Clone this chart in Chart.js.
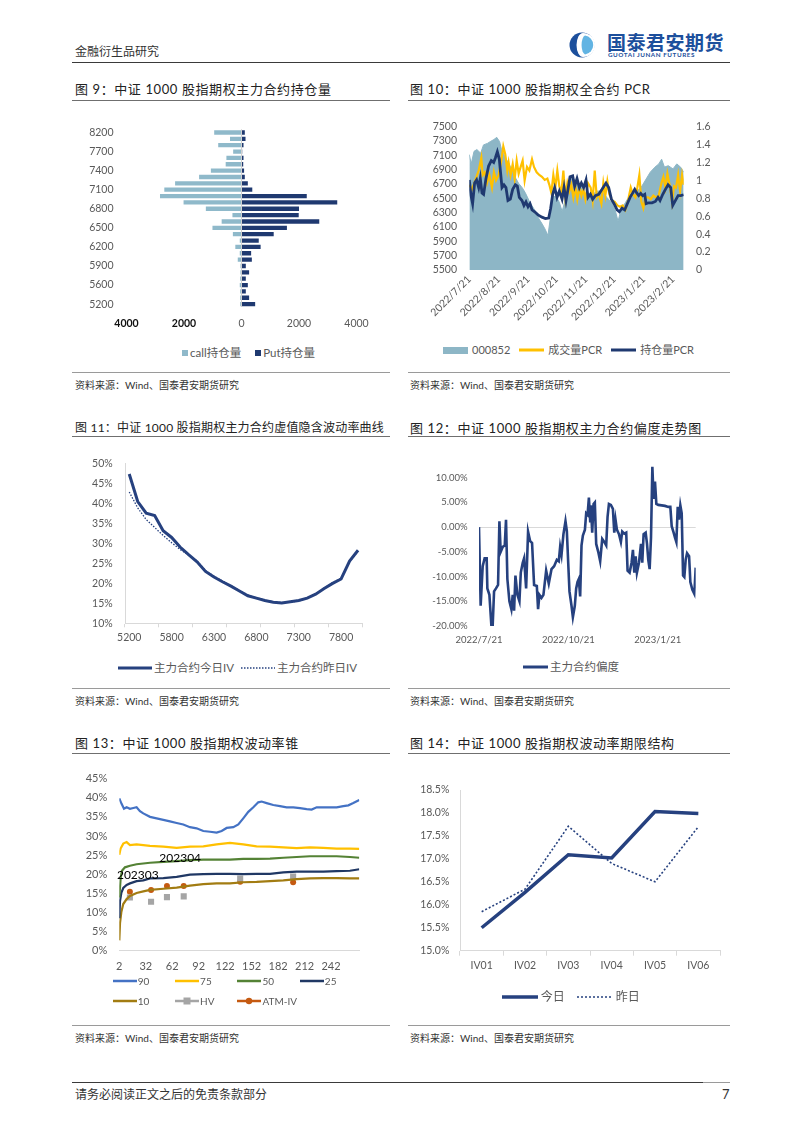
<!DOCTYPE html>
<html lang="zh-CN">
<head>
<meta charset="utf-8">
<title>中证1000股指期权</title>
<script src="https://cdn.jsdelivr.net/npm/chart.js@4.4.1/dist/chart.umd.min.js"></script>
<style>
  html, body { margin: 0; padding: 0; background: #fff; }
  body { width: 802px; height: 1134px; position: relative; overflow: hidden; font-family: Lato, "Noto Sans CJK SC", sans-serif; color: #222; }
  .txt { position: absolute; white-space: nowrap; }
  .rule { position: absolute; height: 0; }
  .title { position: absolute; font-size: 13px; line-height: 16px; letter-spacing: 0.6px; white-space: nowrap; color: #222; }
  .src { position: absolute; font-size: 10px; line-height: 12px; white-space: nowrap; color: #333; }
  canvas { position: absolute; }
  .legend { position: absolute; display: flex; align-items: center; color: #595959; white-space: nowrap; line-height: 14px; }
  .item { display: flex; align-items: center; }
  .item svg { display: block; }
</style>
</head>
<body>

<!-- header -->
<div class="txt" style="left:75px;top:45px;font-size:12px;line-height:14px;color:#333;">金融衍生品研究</div>
<div class="txt" style="left:567px;top:31px;height:28px;">
  <svg width="34" height="28" viewBox="0 0 34 28" style="position:absolute;left:0;top:0">
    <circle cx="15" cy="14" r="12.5" fill="#1c4f9c"/>
    <path d="M16 2 A12 12 0 0 1 16 26 A6.5 12 0 0 1 16 2Z" fill="#ffffff"/>
    <path d="M18 4.5 A9.6 9.6 0 0 1 18 23.5 A4 9.6 0 0 1 18 4.5Z" fill="#62b4e3"/>
  </svg>
  <div style="position:absolute;left:40px;top:1px;font-size:19px;line-height:20px;font-weight:bold;color:#1c4f9c;letter-spacing:0.5px;font-family:'Noto Sans CJK SC',sans-serif;">国泰君安期货</div>
  <div style="position:absolute;left:41px;top:20px;font-size:6.3px;line-height:7px;font-weight:bold;color:#1c4f9c;letter-spacing:0.55px;">GUOTAI JUNAN FUTURES</div>
</div>
<div class="rule" style="left:72px;top:62px;width:658px;border-top:1.5px solid #3a3a3a;"></div>

<!-- titles -->
<div class="title" style="left:75px;top:81px;">图 9：中证 1000 股指期权主力合约持仓量</div>
<div class="title" style="left:410px;top:81px;">图 10：中证 1000 股指期权全合约 PCR</div>
<div class="title" style="left:75px;top:420px;font-size:12px;letter-spacing:0.2px;">图 11：中证 1000 股指期权主力合约虚值隐含波动率曲线</div>
<div class="title" style="left:410px;top:420px;">图 12：中证 1000 股指期权主力合约偏度走势图</div>
<div class="title" style="left:75px;top:735px;">图 13：中证 1000 股指期权波动率锥</div>
<div class="title" style="left:410px;top:735px;">图 14：中证 1000 股指期权波动率期限结构</div>

<div class="rule" style="left:72px;top:100px;width:318px;border-top:1px solid #6f6f6f;"></div>
<div class="rule" style="left:408px;top:100px;width:322px;border-top:1px solid #6f6f6f;"></div>
<div class="rule" style="left:72px;top:436px;width:318px;border-top:1px solid #6f6f6f;"></div>
<div class="rule" style="left:408px;top:436px;width:322px;border-top:1px solid #6f6f6f;"></div>
<div class="rule" style="left:72px;top:753px;width:318px;border-top:1px solid #6f6f6f;"></div>
<div class="rule" style="left:408px;top:753px;width:322px;border-top:1px solid #6f6f6f;"></div>

<!-- source lines -->
<div class="rule" style="left:72px;top:372px;width:318px;border-top:1px solid #9a9a9a;"></div>
<div class="rule" style="left:408px;top:372px;width:322px;border-top:1px solid #9a9a9a;"></div>
<div class="rule" style="left:72px;top:688px;width:318px;border-top:1px solid #9a9a9a;"></div>
<div class="rule" style="left:408px;top:688px;width:322px;border-top:1px solid #9a9a9a;"></div>
<div class="rule" style="left:72px;top:1025px;width:318px;border-top:1px solid #9a9a9a;"></div>
<div class="rule" style="left:408px;top:1025px;width:322px;border-top:1px solid #9a9a9a;"></div>
<div class="src" style="left:75px;top:379px;">资料来源：Wind、国泰君安期货研究</div>
<div class="src" style="left:410px;top:379px;">资料来源：Wind、国泰君安期货研究</div>
<div class="src" style="left:75px;top:695px;">资料来源：Wind、国泰君安期货研究</div>
<div class="src" style="left:410px;top:695px;">资料来源：Wind、国泰君安期货研究</div>
<div class="src" style="left:75px;top:1032px;">资料来源：Wind、国泰君安期货研究</div>
<div class="src" style="left:410px;top:1032px;">资料来源：Wind、国泰君安期货研究</div>

<!-- footer -->
<div class="rule" style="left:72px;top:1082px;width:631px;border-top:1.5px solid #3a3a3a;"></div>
<div class="rule" style="left:703px;top:1082px;width:27px;border-top:1px solid #9a9a9a;"></div>
<div class="txt" style="left:75px;top:1088px;font-size:12px;line-height:14px;color:#333;">请务必阅读正文之后的免责条款部分</div>
<div class="txt" style="left:722px;top:1087px;font-size:13px;line-height:15px;color:#333;">7</div>

<script>
// 图9 主力合约持仓量（行权价由低到高）
const strikes = [5200, 5400, 5500, 5600, 5700, 5800, 5900, 6000, 6100, 6200, 6300, 6400, 6500, 6600,
  6700, 6800, 6900, 7000, 7100, 7200, 7300, 7400, 7500, 7600, 7700, 7800, 8000, 8200];
const callOI = [45, 45, 45, 60, 45, 35, 35, 130, 60, 215, 60, 300, 1010, 690, 315, 1240, 2015, 2835,
  2685, 2310, 1475, 1065, 550, 525, 290, 810, 400, 950];
const putOI = [475, 265, 150, 220, 150, 265, 150, 360, 335, 665, 600, 1120, 1580, 2705, 1990, 2000,
  3330, 2270, 375, 220, 115, 90, 60, 70, 25, 70, 140, 115];

// 图10 全合约PCR（横轴：距 2022/7/21 的天数）
const pcrTickLabels = ['2022/7/21', '2022/8/21', '2022/9/21', '2022/10/21', '2022/11/21', '2022/12/21', '2023/1/21', '2023/2/21'];
const indexDays = [0, 2, 5, 8, 12, 15, 19, 22, 26, 29, 32, 34, 38, 42, 45, 49, 52, 56, 59, 63,
  66, 70, 73, 77, 80, 83, 86, 88, 92, 95, 98, 101, 104, 108, 114, 119, 124, 130, 135, 140,
  145, 151, 154, 157, 160, 165, 170, 175, 181, 186, 191, 196, 200, 203, 206, 210, 215, 219, 223, 226.3];
const indexLevel = [7110, 6980, 7155, 7180, 7130, 7245, 7265, 7290, 7320, 7350, 7290, 7180, 7065, 6980, 6890, 6780, 6710, 6645, 6580, 6470,
  6400, 6315, 6225, 6140, 6070, 5980, 6270, 6535, 6515, 6445, 6315, 6470, 6625, 6780, 6735, 6645, 6535, 6555, 6600, 6600,
  6515, 6425, 6335, 6180, 6335, 6445, 6555, 6580, 6645, 6755, 6865, 6935, 6980, 7045, 6935, 6955, 6910, 6980, 6935, 6865];
const volPcrDays = [0, 2.8, 6.3, 9.9, 12.7, 14.1, 16.2, 18.7, 21.1, 23.9, 26, 28.2, 31, 33.8, 35.9, 38, 40.1, 41.5, 43.6, 45.8,
  47.9, 50, 52.1, 54.2, 56.3, 58.4, 60.9, 63.4, 66.2, 68.3, 71.1, 73.9, 76.7, 79.6, 82.4, 84.5, 86.6, 88.7, 90.8, 92.9,
  95, 97.2, 99.3, 101.4, 103.5, 105.6, 107.7, 109.8, 111.9, 114, 116.2, 118.3, 120.4, 122.5, 125.3, 128.1, 130.2, 132.4, 134.5, 136.6,
  139.4, 141.5, 143.6, 145.7, 147.8, 150.7, 153.5, 156.3, 159.1, 161.9, 164.7, 167.6, 170.4, 172.5, 175.3, 177.4, 179.5, 181.6, 183.7, 185.9,
  188.7, 191.5, 194.3, 197.1, 199.9, 202.8, 204.9, 207, 209.1, 211.9, 214, 216.1, 218.2, 220.4, 222.5, 224.6, 226.3];
const volPcr = [0.95, 0.9, 1.0, 1.11, 1.25, 1.06, 1.09, 0.97, 1.06, 0.92, 1.09, 1.0, 1.06, 1.22, 1.38, 1.29, 1.11, 1.2, 1.06, 1.18,
  1.02, 1.22, 1.075, 1.15, 1.22, 1.0, 1.15, 1.11, 1.235, 1.15, 1.09, 1.06, 1.04, 1.005, 1.02, 0.95, 0.86, 1.06, 0.92, 1.11,
  0.935, 0.86, 1.11, 0.81, 0.97, 0.88, 0.95, 0.81, 0.935, 0.79, 0.92, 0.83, 0.9, 0.79, 0.97, 0.92, 0.775, 1.11, 0.81, 0.845,
  0.74, 0.97, 0.83, 0.99, 0.845, 0.775, 0.76, 0.72, 0.705, 0.72, 0.67, 0.775, 0.92, 0.845, 0.81, 0.92, 1.06, 0.76, 0.69, 0.81,
  0.81, 0.79, 0.83, 0.81, 0.83, 0.97, 1.04, 0.92, 1.075, 0.92, 0.76, 0.935, 0.92, 1.06, 0.88, 1.06, 0.95];
const oiPcrDays = [0, 1.8, 3.5, 5.6, 7.7, 9.9, 11.6, 13.4, 15.1, 17.6, 20.4, 23.2, 25.7, 27.5, 29.6, 31.7, 33.1, 34.5, 36.6, 38.7,
  40.8, 43.3, 45.8, 48.6, 50.7, 52.8, 55.6, 57.7, 59.8, 62, 64.1, 66.2, 69, 72.5, 76.7, 80.3, 83.8, 85.9, 88, 90.1,
  92.6, 95, 97.9, 100, 102.1, 104.2, 106.3, 109.1, 111.2, 113.7, 116.2, 118.3, 120.7, 123.2, 125.3, 127.8, 130.2, 133.1, 136.6, 140.1,
  144.3, 147.1, 150, 152.8, 156, 158.4, 161.2, 164, 166.8, 169.7, 172.5, 174.6, 176.7, 178.8, 180.9, 183, 185.2, 186.6, 189.4, 192.9,
  196.4, 199.2, 201.3, 204.2, 207, 209.8, 212.6, 214.7, 217.5, 220.4, 223.2, 226.3];
const oiPcr = [1.005, 0.83, 0.74, 0.97, 1.005, 0.92, 1.02, 0.86, 0.845, 1.02, 1.16, 1.22, 1.2, 1.25, 1.32, 1.235, 1.075, 0.92, 0.95, 0.92,
  0.775, 0.79, 0.9, 0.95, 0.935, 0.81, 0.775, 0.72, 0.76, 0.705, 0.74, 0.67, 0.65, 0.615, 0.59, 0.575, 0.58, 0.69, 0.845, 0.92,
  0.81, 0.88, 0.79, 0.92, 0.775, 0.9, 1.04, 1.05, 0.935, 1.02, 0.92, 0.97, 0.92, 1.005, 0.81, 0.845, 0.79, 0.83, 0.845, 0.9,
  0.97, 0.92, 0.79, 0.74, 0.67, 0.65, 0.69, 0.67, 0.74, 0.81, 0.86, 0.9, 0.86, 0.83, 0.855, 0.83, 0.845, 0.74, 0.75, 0.75,
  0.765, 0.81, 0.775, 0.845, 0.9, 0.95, 0.92, 0.72, 0.775, 0.83, 0.83, 0.84];

// 图11 虚值隐含波动率（%），与 strikes 对应
const ivToday = [47.4, 40.5, 37.6, 37.0, 33.2, 31.5, 29.1, 27.2, 25.4, 23.0, 21.6, 20.4, 19.3, 18.1,
  16.9, 16.3, 15.7, 15.3, 15.1, 15.4, 15.7, 16.3, 17.3, 18.7, 20.0, 21.1, 25.6, 28.3];
const ivYesterday = [42.9, 38.9, 36.0, 34.0, 32.0, 30.2, 28.5, 27.1, 25.6, 23.2, 21.8, 20.6, 19.4, 18.2,
  17.1, 16.4, 15.8, 15.4, 15.2, 15.3, 15.6, 16.3, 17.4, 18.8, 20.2, 21.3, 25.4, 28.1];

// 图12 主力合约偏度（%）
const skewTickLabels = ['2022/7/21', '2022/10/21', '2023/1/21'];
const skewDays = [0, 1.7, 3.8, 5.8, 7.9, 8.6, 10.7, 12.7, 14.1, 15.5, 17.5, 19.6, 21, 22.3, 24.4, 26.5, 27.8, 29.2, 31.3, 33.3,
  34.7, 36.1, 37.5, 39.5, 41.6, 43, 45, 46.4, 48.5, 50.5, 52.6, 54.6, 56.7, 59.5, 60.8, 62.2, 64.3, 66.3, 69.1, 71.8,
  74.6, 77.3, 80.1, 82.1, 83.5, 84.9, 86.9, 89, 90.4, 91.8, 93.1, 95.2, 96.6, 98.6, 100, 101.4, 102.7, 104.1, 105.5, 106.9,
  109, 110.3, 111.7, 113.1, 114.4, 115.1, 116.5, 117.9, 119.2, 120.6, 122.7, 124.7, 126.8, 128.9, 130.9, 132.3, 133.7, 135.7, 137.8, 139.2,
  140.5, 141.9, 144, 146, 147.4, 149.5, 151.5, 152.9, 155, 157, 158.4, 159.8, 161.2, 162.5, 164.6, 166.7, 168, 169.4, 171.5, 172.9,
  174.2, 175.6, 177, 178.4, 179.7, 181.1, 182.5, 184.5, 188, 191.4, 194.8, 196.9, 198.3, 200.3, 201.7, 203.1, 204.5, 205.8, 207.2, 208.6,
  210, 211.3, 212.7, 214.1, 216.2, 217.5, 219.6, 221.6, 223];
const skewValues = [0.0, -15.9, -7.9, -6.3, -6.3, -12.4, -13.7, -19.8, -19.8, -13.0, -12.4, -11.7, 1.2, -5.0, -4.0, -3.7, 1.5, -10.5, -15.0, -16.6,
  -13.7, -16.9, -9.8, -13.7, -15.0, -9.2, -7.2, -6.3, -12.4, -0.9, -2.8, -3.2, -11.7, -11.9, -16.6, -13.7, -14.3, -13.7, -8.8, -11.4,
  -8.5, -7.9, -6.6, -6.9, -4.0, -5.6, -1.4, 1.2, -0.8, -7.2, -13.0, -15.9, -18.2, -15.9, -12.4, -11.1, -10.5, -14.0, -3.7, -1.7,
  -0.5, 2.8, 2.5, 6.0, 1.2, 4.4, -1.1, 4.7, 5.0, -3.4, -5.0, -6.9, -2.4, -3.0, -3.7, 2.1, 4.7, 4.5, 3.7, -1.1,
  1.5, -0.5, -1.4, -3.0, -0.9, -1.3, -1.1, -8.8, -9.2, -7.2, -4.6, -9.2, -5.9, -9.2, -7.2, -3.4, -7.2, -1.4, -1.1, -3.4,
  -6.6, -8.5, -2.1, 12.2, 5.7, 9.2, 4.7, 4.5, 4.4, 4.3, 4.1, 4.1, 0.2, -1.1, -2.1, -3.0, 4.1, 1.5, 4.4, 2.8,
  -9.8, -10.1, -6.6, -5.3, -5.9, -11.1, -12.7, -13.5, -8.2];

// 图13 波动率锥（%），横轴为剩余天数
const coneTicks = [2, 32, 62, 92, 122, 152, 182, 212, 242];
const cone90Days = [2, 4.6, 7.3, 10.3, 14.1, 17.9, 21.6, 25.4, 29.2, 36.8, 44.3, 51.9, 59.4, 67, 74.5, 82.1, 89.6, 97.2, 104.8, 112.3,
  118, 123.7, 131.2, 136.9, 142.5, 148.2, 153.9, 159.5, 163.3, 169, 176.5, 184.1, 191.7, 199.2, 206.8, 214.3, 220, 225.7, 233.2, 240.8,
  248.3, 255.9, 261.6, 267.2, 274];
const cone90 = [39.8, 38.4, 37.1, 37.5, 37.1, 37.3, 37.5, 36.5, 35.9, 35.0, 34.6, 34.2, 33.8, 33.4, 33.0, 32.3, 32.0, 31.3, 31.1, 30.9,
  31.3, 32.1, 32.3, 33.0, 34.6, 36.3, 37.5, 38.8, 39.0, 38.6, 38.1, 37.8, 37.5, 37.5, 37.3, 37.0, 36.9, 37.5, 37.5, 37.5,
  37.5, 37.8, 38.0, 38.6, 39.4];
const cone75Days = [2, 3.5, 6.5, 10.3, 14.1, 21.6, 36.8, 51.9, 67, 82.1, 97.2, 112.3, 127.4, 142.5, 157.6, 172.8, 187.9, 203, 218.1, 233.2, 248.3, 263.4, 274];
const cone75 = [25.1, 26.7, 28.0, 28.4, 27.6, 27.8, 27.4, 27.2, 26.9, 27.2, 27.3, 27.8, 28.2, 27.8, 27.3, 27.2, 27.0, 26.8, 27.0, 26.9, 26.7, 26.7, 26.6];
const cone50Days = [2, 3.5, 5, 8.4, 14.1, 21.6, 36.8, 51.9, 67, 82.1, 97.2, 112.3, 127.4, 142.5, 157.6, 172.8, 187.9, 203, 218.1, 233.2, 248.3, 263.4, 274];
const cone50 = [13.9, 18.9, 20.9, 21.8, 22.2, 22.6, 23.0, 23.2, 23.4, 23.7, 23.8, 23.8, 23.8, 24.0, 24.0, 24.1, 24.3, 24.5, 24.7, 24.7, 24.7, 24.5, 24.3];
const coneLowDays = [2, 2.8, 4.3, 6.5, 10.3, 14.1, 21.6, 29.2, 36.8, 51.9, 67, 82.1, 97.2, 112.3, 127.4, 142.5, 157.6, 172.8, 187.9, 203, 218.1, 233.2, 248.3, 263.4, 274];
const cone25 = [8.5, 13.0, 15.1, 16.4, 17.2, 17.6, 18.2, 18.4, 18.9, 19.0, 19.3, 19.9, 20.0, 20.1, 20.1, 20.0, 20.1, 20.1, 20.5, 20.7, 20.7, 20.7, 20.8, 20.9, 21.3];
const cone10 = [2.7, 7.2, 10.1, 12.2, 13.5, 14.3, 15.1, 15.5, 15.9, 16.2, 16.5, 17.0, 17.4, 17.6, 17.6, 17.9, 18.0, 18.2, 18.4, 18.7, 18.9, 19.0, 19.0, 18.9, 18.9];
const contractDays = [14, 38, 56, 75, 139, 199];
const atmIV = [15.4, 15.9, 16.9, 16.9, 18.0, 17.9];
const histVol = [13.9, 12.8, 14.0, 14.2, 18.9, 19.4];
const coneNotes = [{ text: '202303', x: 23, y: 19.7 }, { text: '202304', x: 71, y: 24.1 }];

// 图14 期限结构（%）
const termLabels = ['IV01', 'IV02', 'IV03', 'IV04', 'IV05', 'IV06'];
const termToday = [15.5, 16.27, 17.09, 17.02, 18.03, 17.99];
const termYesterday = [15.85, 16.34, 17.71, 16.9, 16.5, 17.7];

// ---------------------------------------------------------------
Chart.defaults.font.family = 'Lato, "Noto Sans CJK SC", sans-serif';
Chart.defaults.font.size = 10.5;
Chart.defaults.color = '#595959';
Chart.defaults.animation = false;
Chart.defaults.responsive = false;
Chart.defaults.plugins.legend.display = false;
Chart.defaults.plugins.tooltip.enabled = false;
Chart.defaults.elements.point.radius = 0;
Chart.defaults.elements.line.tension = 0;

const BASE = Date.UTC(2022, 6, 21);
const dayOf = s => { const [y, m, d] = s.split('/').map(Number); return Math.round((Date.UTC(y, m - 1, d) - BASE) / 864e5); };
const pts = (xs, ys) => xs.map((x, i) => ({ x, y: ys[i] }));
const fixW = w => s => { s.width = w; };
const fixH = h => s => { s.height = h; };
const dateAxisTicks = labels => s => { s.ticks = labels.map(l => ({ value: dayOf(l) })); };
const dateLabel = labels => v => labels.find(l => dayOf(l) === v) || '';
const noGrid = { display: false, drawTicks: false };

function makeCanvas(b) {
  const c = document.createElement('canvas');
  c.width = b.w; c.height = b.h;
  c.style.left = b.left + 'px'; c.style.top = b.top + 'px';
  document.body.appendChild(c);
  return c;
}
function frame(b, p, yW, yRW, xH) {
  return { left: p.l - b.left - yW, top: p.t - b.top, right: b.left + b.w - p.r - yRW, bottom: b.top + b.h - p.b - xH };
}

function swatch(ds, w) {
  const lt = ds.legendType;
  if (lt === 'box') return `<svg width="6" height="6"><rect width="6" height="6" fill="${ds.backgroundColor}"/></svg>`;
  if (lt === 'area') return `<svg width="25" height="7"><rect width="25" height="7" fill="${ds.backgroundColor}"/></svg>`;
  const col = ds.legendColor || ds.borderColor;
  const lw = ds.legendLineWidth || ds.borderWidth;
  const dash = ds.borderDash ? ` stroke-dasharray="${ds.borderDash.join(' ')}"` : '';
  let m = '';
  if (lt === 'rect') m = `<rect x="${w / 2 - 3.5}" y="1.5" width="7" height="7" fill="${col}"/>`;
  if (lt === 'circle') m = `<circle cx="${w / 2}" cy="5" r="3.2" fill="${col}"/>`;
  return `<svg width="${w}" height="10"><line x1="0" y1="5" x2="${w}" y2="5" stroke="${col}" stroke-width="${lw}"${dash}/>${m}</svg>`;
}
function legend(chart, o) {
  const box = document.createElement('div');
  box.className = 'legend';
  box.style.left = o.left + 'px';
  box.style.top = o.top + 'px';
  box.style.fontSize = o.font + 'px';
  box.style.columnGap = (o.gap || 0) + 'px';
  if (o.cols) {
    box.style.display = 'grid';
    box.style.gridTemplateColumns = `repeat(${o.cols}, ${o.colW}px)`;
    box.style.rowGap = o.rowGap + 'px';
  }
  chart.data.datasets.forEach(ds => {
    const it = document.createElement('div');
    it.className = 'item';
    it.innerHTML = swatch(ds, o.sw) + `<span style="margin-left:${o.textGap}px">${ds.label}</span>`;
    box.appendChild(it);
  });
  document.body.appendChild(box);
}

const NAVY = '#1f3970';
const LINE_NAVY = '#26417f';

// ---- 图9 ----
{
  const b = { left: 72, top: 110, w: 318, h: 226 };
  const p = { l: 126.5, t: 122.7, r: 356.5, b: 307.3 };
  const chart = new Chart(makeCanvas(b), {
    type: 'bar',
    data: {
      labels: strikes,
      datasets: [
        { label: 'call持仓量', data: callOI.map(v => -v), backgroundColor: '#8fb9ca', legendType: 'box' },
        { label: 'Put持仓量', data: putOI, backgroundColor: NAVY, legendType: 'box' }
      ]
    },
    options: {
      indexAxis: 'y',
      layout: { padding: frame(b, p, 50, 0, 28.7) },
      datasets: { bar: { barPercentage: 0.68, categoryPercentage: 1 } },
      scales: {
        x: {
          min: -4000, max: 4000, stacked: true,
          ticks: {
            stepSize: 2000, padding: 10,
            callback: v => String(Math.abs(v)),
            color: ctx => ctx.tick && ctx.tick.value < 0 ? '#111' : '#595959',
            font: ctx => ({ size: 10.5, weight: ctx.tick && ctx.tick.value < 0 ? 'bold' : 'normal' })
          },
          grid: { drawTicks: false, color: ctx => ctx.tick && ctx.tick.value === 0 ? '#d0d0d0' : 'transparent' },
          border: { display: false },
          afterFit: fixH(28.7)
        },
        y: {
          reverse: true, stacked: true,
          ticks: { autoSkip: false, padding: 13, callback: (v, i) => i % 3 === 0 ? String(strikes[i]) : '' },
          grid: noGrid,
          border: { display: false },
          afterFit: fixW(50)
        }
      }
    }
  });
  legend(chart, { left: 182, top: 346, font: 11.5, gap: 14, textGap: 2 });
}

// ---- 图10 ----
{
  const b = { left: 408, top: 108, w: 322, h: 224 };
  const p = { l: 469.3, t: 119.3, r: 683.7, b: 270 };
  const lastDay = Math.max(...indexDays, ...volPcrDays, ...oiPcrDays);
  const chart = new Chart(makeCanvas(b), {
    type: 'line',
    data: {
      datasets: [
        { label: '000852', data: pts(indexDays, indexLevel), yAxisID: 'y', fill: 'start', backgroundColor: '#8db6c6', borderColor: '#8db6c6', borderWidth: 1, order: 3, legendType: 'area' },
        { label: '成交量PCR', data: pts(volPcrDays, volPcr), yAxisID: 'y1', borderColor: '#ffc000', borderWidth: 2.2, order: 2, legendType: 'line', legendLineWidth: 3 },
        { label: '持仓量PCR', data: pts(oiPcrDays, oiPcr), yAxisID: 'y1', borderColor: NAVY, borderWidth: 2.8, order: 1, legendType: 'line', legendLineWidth: 3 }
      ]
    },
    options: {
      layout: { padding: frame(b, p, 50, 40, 62) },
      scales: {
        x: {
          type: 'linear', min: 0, max: lastDay,
          afterBuildTicks: dateAxisTicks(pcrTickLabels),
          ticks: { autoSkip: false, minRotation: 45, maxRotation: 45, padding: 3, callback: dateLabel(pcrTickLabels) },
          grid: noGrid, border: { display: false },
          afterFit: fixH(62)
        },
        y: {
          position: 'left', min: 5500, max: 7500,
          ticks: { autoSkip: false, stepSize: 200, padding: 12.3, callback: v => String(v) },
          grid: noGrid, border: { display: false },
          afterFit: fixW(50)
        },
        y1: {
          position: 'right', min: 0, max: 1.6,
          ticks: { autoSkip: false, stepSize: 0.2, padding: 12.3, callback: v => String(+v.toFixed(1)) },
          grid: noGrid, border: { display: false },
          afterFit: fixW(40)
        }
      }
    }
  });
  legend(chart, { left: 443, top: 343, font: 11, gap: 9, textGap: 4, sw: 25 });
}

// ---- 图11 ----
{
  const b = { left: 72, top: 445, w: 318, h: 212 };
  const p = { l: 125, t: 459.3, r: 362.3, b: 623.3 };
  const chart = new Chart(makeCanvas(b), {
    type: 'line',
    data: {
      labels: strikes,
      datasets: [
        { label: '主力合约今日IV', data: ivToday, borderColor: LINE_NAVY, borderWidth: 3, legendType: 'line' },
        { label: '主力合约昨日IV', data: ivYesterday, borderColor: LINE_NAVY, borderWidth: 1.3, borderDash: [1.5, 1.5], legendType: 'line' }
      ]
    },
    options: {
      layout: { padding: frame(b, p, 48, 0, 26) },
      scales: {
        x: {
          offset: true,
          ticks: { autoSkip: false, maxRotation: 0, padding: 4.4, callback: (v, i) => i % 5 === 0 ? String(strikes[i]) : '' },
          grid: { offset: true, drawOnChartArea: false, tickLength: 4, color: ctx => ((ctx.index ?? strikes.length) % 4 === 0 ? '#d9d9d9' : 'transparent') },
          border: { display: true, color: '#d9d9d9' },
          afterFit: fixH(26)
        },
        y: {
          min: 10, max: 50,
          ticks: { autoSkip: false, stepSize: 5, padding: 12.3, callback: v => v + '%' },
          grid: noGrid, border: { display: true, color: '#d9d9d9' },
          afterFit: fixW(48)
        }
      }
    }
  });
  legend(chart, { left: 118, top: 661, font: 11.5, gap: 7, textGap: 2, sw: 34 });
}

// ---- 图12 ----
{
  const b = { left: 408, top: 436, w: 322, h: 216 };
  const p = { l: 479, t: 445.2, r: 695.7, b: 626 };
  const chart = new Chart(makeCanvas(b), {
    type: 'line',
    data: {
      datasets: [
        { label: '主力合约偏度', data: pts(skewDays, skewValues), borderColor: LINE_NAVY, borderWidth: 2.6, legendType: 'line', legendLineWidth: 3 }
      ]
    },
    options: {
      layout: { padding: frame(b, p, 62, 0, 24) },
      scales: {
        x: {
          type: 'linear', min: 0, max: Math.max(...skewDays),
          afterBuildTicks: dateAxisTicks(skewTickLabels),
          ticks: { autoSkip: false, maxRotation: 0, padding: 8.3, font: { size: 9.5 }, callback: dateLabel(skewTickLabels) },
          grid: noGrid, border: { display: false },
          afterFit: fixH(24)
        },
        y: {
          min: -20, max: 15,
          ticks: { autoSkip: false, stepSize: 5, padding: 11.3, font: { size: 9.5 }, callback: v => v > 10 ? '' : v.toFixed(2) + '%' },
          grid: { drawTicks: false, color: ctx => ctx.tick && ctx.tick.value === 0 ? '#d9d9d9' : 'transparent' },
          border: { display: false },
          afterFit: fixW(62)
        }
      }
    }
  });
  legend(chart, { left: 523, top: 660, font: 11.5, textGap: 2, sw: 25 });
}

// ---- 图13 ----
{
  const b = { left: 72, top: 760, w: 318, h: 222 };
  const p = { l: 119.3, t: 770, r: 359.3, b: 950.7 };
  const notes = {
    id: 'coneNotes',
    afterDatasetsDraw(chart) {
      const { ctx, scales: { x, y } } = chart;
      ctx.save();
      ctx.font = '12px Lato, sans-serif';
      ctx.fillStyle = '#000';
      ctx.textAlign = 'center';
      ctx.textBaseline = 'middle';
      coneNotes.forEach(n => ctx.fillText(n.text, x.getPixelForValue(n.x), y.getPixelForValue(n.y)));
      ctx.restore();
    }
  };
  const chart = new Chart(makeCanvas(b), {
    type: 'line',
    data: {
      datasets: [
        { label: '90', data: pts(cone90Days, cone90), borderColor: '#4472c4', borderWidth: 2.2, legendType: 'line', legendLineWidth: 2.5 },
        { label: '75', data: pts(cone75Days, cone75), borderColor: '#ffc000', borderWidth: 2.2, legendType: 'line', legendLineWidth: 2.5 },
        { label: '50', data: pts(cone50Days, cone50), borderColor: '#548235', borderWidth: 2.2, legendType: 'line', legendLineWidth: 2.5 },
        { label: '25', data: pts(coneLowDays, cone25), borderColor: '#203864', borderWidth: 2.2, legendType: 'line', legendLineWidth: 2.5 },
        { label: '10', data: pts(coneLowDays, cone10), borderColor: '#a27c12', borderWidth: 2.2, legendType: 'line', legendLineWidth: 2.5 },
        { label: 'HV', data: pts(contractDays, histVol), showLine: false, pointStyle: 'rect', pointRadius: 4.3, backgroundColor: '#a5a5a5', borderColor: '#a5a5a5', borderWidth: 0, legendType: 'rect', legendLineWidth: 2.5 },
        { label: 'ATM-IV', data: pts(contractDays, atmIV), showLine: false, pointStyle: 'circle', pointRadius: 3, backgroundColor: '#c55a11', borderColor: '#c55a11', borderWidth: 0, legendType: 'circle', legendLineWidth: 2.5 }
      ]
    },
    options: {
      layout: { padding: frame(b, p, 46, 0, 26) },
      scales: {
        x: {
          type: 'linear', min: 2, max: 274,
          afterBuildTicks: s => { s.ticks = coneTicks.map(v => ({ value: v })); },
          ticks: { autoSkip: false, maxRotation: 0, padding: 9.4, font: { size: 11 }, callback: v => String(v) },
          grid: noGrid, border: { display: true, color: '#d9d9d9' },
          afterFit: fixH(26)
        },
        y: {
          min: 0, max: 45,
          ticks: { autoSkip: false, stepSize: 5, padding: 12, font: { size: 11 }, callback: v => v + '%' },
          grid: noGrid, border: { display: false },
          afterFit: fixW(46)
        }
      }
    },
    plugins: [notes]
  });
  legend(chart, { left: 112.7, top: 973.7, font: 10, cols: 4, colW: 62.4, rowGap: 6, textGap: 1, sw: 24 });
}

// ---- 图14 ----
{
  const b = { left: 408, top: 773, w: 322, h: 210 };
  const p = { l: 460, t: 783.3, r: 720, b: 950.7 };
  const chart = new Chart(makeCanvas(b), {
    type: 'line',
    data: {
      labels: termLabels,
      datasets: [
        { label: '今日', data: termToday, borderColor: LINE_NAVY, borderWidth: 3.5, legendType: 'line' },
        { label: '昨日', data: termYesterday, borderColor: LINE_NAVY, borderWidth: 1.6, borderDash: [2, 2], legendType: 'line' }
      ]
    },
    options: {
      layout: { padding: frame(b, p, 50, 0, 26) },
      scales: {
        x: {
          offset: true,
          ticks: { autoSkip: false, maxRotation: 0, padding: 4 },
          grid: { offset: true, drawOnChartArea: false, tickLength: 5, color: '#d9d9d9' },
          border: { display: true, color: '#d9d9d9' },
          afterFit: fixH(26)
        },
        y: {
          min: 15, max: 18.5,
          ticks: { autoSkip: false, stepSize: 0.5, padding: 10.7, callback: v => v.toFixed(1) + '%' },
          grid: noGrid, border: { display: true, color: '#d9d9d9' },
          afterFit: fixW(50)
        }
      }
    }
  });
  legend(chart, { left: 501.7, top: 989.7, font: 12, gap: 12, textGap: 3, sw: 36 });
}
</script>
</body>
</html>
